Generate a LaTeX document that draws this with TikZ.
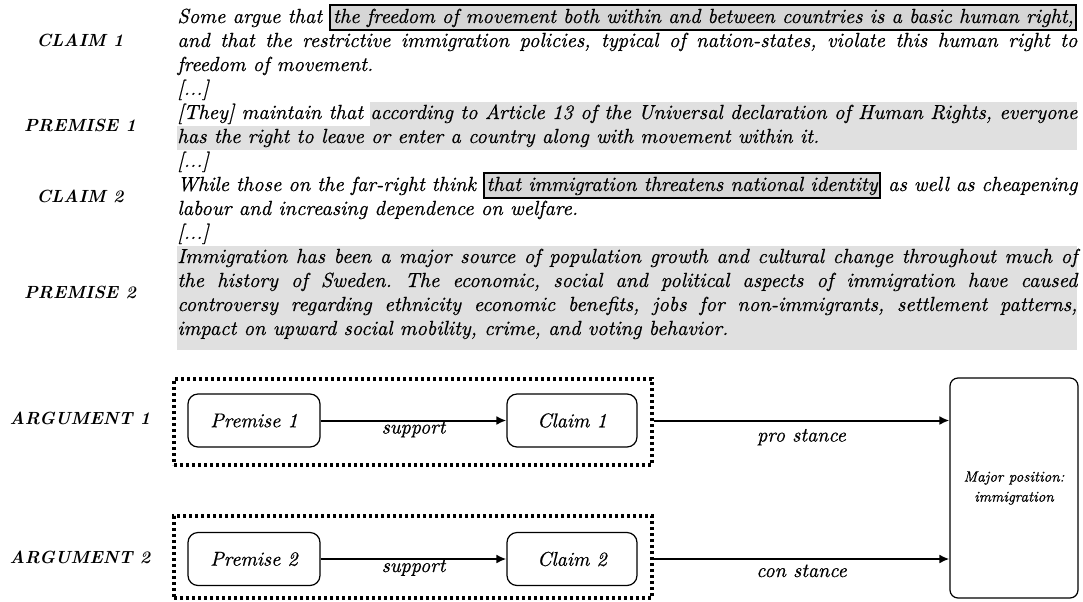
\documentclass[tikz,border=0pt]{standalone}
\usepackage{fontspec}
\newfontfamily\bodyfont{lmroman10-italic}[Extension=.otf,FakeBold=0.6]
\usetikzlibrary{arrows.meta}
\definecolor{hlgrey}{RGB}{224,224,224}
\definecolor{frgrey}{RGB}{214,214,214}
\newlength\TW \setlength\TW{450pt}
\newlength\restlen
\newcommand\hstrut{\rule[-3.5pt]{0pt}{12pt}}
\newcommand\fstrut{\rule[-2pt]{0pt}{9.5pt}}
\newcommand\justline[1]{\makebox[\TW][s]{#1}}
\newcommand\lastline[1]{\makebox[\TW][l]{#1}}
\newcommand\framedrest[2]{%
  \settowidth\restlen{#1\ }%
  \makebox[\TW][l]{#1\ {\fboxsep=0.8pt\fboxrule=1pt\fcolorbox{black}{frgrey}{\fstrut\makebox[\dimexpr\TW-\restlen-3.6pt\relax][s]{#2}}}}}
\newcommand\greyrest[2]{%
  \settowidth\restlen{#1\ }%
  \makebox[\TW][l]{#1\ {\fboxsep=0pt\colorbox{hlgrey}{\hstrut\makebox[\dimexpr\TW-\restlen\relax][s]{#2}}}}}
\newcommand\framed[1]{{\fboxsep=0.8pt\fboxrule=1pt\fcolorbox{black}{frgrey}{\fstrut #1}}}
\begin{document}
\frenchspacing
\begin{tikzpicture}[x=0.5pt,y=-0.5pt,
  bodytext/.style={anchor=base west, inner sep=0pt, font=\fontsize{10.2}{12}\selectfont\bodyfont\frenchspacing},
  lab/.style={anchor=base, inner sep=0pt, font=\fontsize{8.8}{10}\selectfont\bfseries\itshape},
  rbox/.style={draw, line width=0.6pt, rounded corners=5pt, minimum height=26.5pt, font=\bodyfont, inner sep=0pt},
  dotbox/.style={draw, line width=1.6pt, dash pattern=on 1.6pt off 1.4pt, minimum width=239pt, inner sep=0pt},
  majbox/.style={draw, line width=0.6pt, rounded corners=4pt, minimum width=64pt, minimum height=110pt, align=center, inner sep=0pt, font=\fontsize{7.5}{10}\selectfont\bodyfont},
  arr/.style={line width=1pt, -{Latex[length=5pt,width=4.5pt]}},
  elab/.style={anchor=base, inner sep=0pt, font=\bodyfont}
]
\path[use as bounding box, fill=white] (0,0) rectangle (1083,601);

% grey background of premise 2
\fill[hlgrey] (177,246) rectangle (1077,350);

% text lines
\node[bodytext] (L1) at (177,23) {\framedrest{Some argue that}{the freedom of movement both within and between countries is a basic human right,}};
\node[bodytext] (L2) at (177,47) {\justline{and that the restrictive immigration policies, typical of nation-states, violate this human right to}};
\node[bodytext] (L3) at (177,71) {\lastline{freedom of movement.}};
\node[bodytext] (L4) at (177,95) {\lastline{[...]}};
\node[bodytext] (L5) at (177,119) {\greyrest{[They] maintain that}{according to Article 13 of the Universal declaration of Human Rights, everyone}};
\node[bodytext] (L6) at (177,143) {{\fboxsep=0pt\colorbox{hlgrey}{\hstrut\makebox[\TW][l]{has the right to leave or enter a country along with movement within it.}}}};
\node[bodytext] (L7) at (177,167) {\lastline{[...]}};
\node[bodytext] (L8) at (177,191) {\justline{While those on the far-right think \framed{that immigration threatens national identity} as well as cheapening}};
\node[bodytext] (L9) at (177,215) {\lastline{labour and increasing dependence on welfare.}};
\node[bodytext] (L10) at (177,239) {\lastline{[...]}};
\node[bodytext] (L11) at (177,263) {\justline{Immigration has been a major source of population growth and cultural change throughout much of}};
\node[bodytext] (L12) at (177,287) {\justline{the history of Sweden. The economic, social and political aspects of immigration have caused}};
\node[bodytext] (L13) at (177,311) {\justline{controversy regarding ethnicity economic benefits, jobs for non-immigrants, settlement patterns,}};
\node[bodytext] (L14) at (177,335) {\lastline{impact on upward social mobility, crime, and voting behavior.}};

% left labels
\node[lab] (lc1) at (80,46) {CLAIM 1};
\node[lab] (lp1) at (80,131) {PREMISE 1};
\node[lab] (lc2) at (80,202) {CLAIM 2};
\node[lab] (lp2) at (80,298) {PREMISE 2};
\node[lab] (la1) at (80,424.5) {ARGUMENT 1};
\node[lab] (la2) at (80,563) {ARGUMENT 2};

% argument frames
\node[dotbox, minimum height=43pt] (a1) at (413,422) {};
\node[dotbox, minimum height=41pt] (a2) at (413,557) {};

% nodes
\node[rbox, minimum width=66pt] (p1) at (254,420.5) {Premise 1};
\node[rbox, minimum width=65pt] (c1) at (572,420.5) {Claim 1};
\node[rbox, minimum width=66pt] (p2) at (254,559) {Premise 2};
\node[rbox, minimum width=65pt] (c2) at (572,559) {Claim 2};
\node[majbox] (m) at (1014,488) {Major position:\\immigration};

% connectors
\draw[arr] (p1.east) -- node[elab, yshift=-6.5pt] {support} (c1.west);
\draw[arr] (p2.east) -- node[elab, yshift=-6.5pt] {support} (c2.west);
\draw[arr] (c1 -| a1.east) -- node[elab, yshift=-10.5pt] {pro stance} (c1 -| m.west);
\draw[arr] (c2 -| a2.east) -- node[elab, yshift=-9pt] {con stance} (c2 -| m.west);
\end{tikzpicture}
\end{document}
